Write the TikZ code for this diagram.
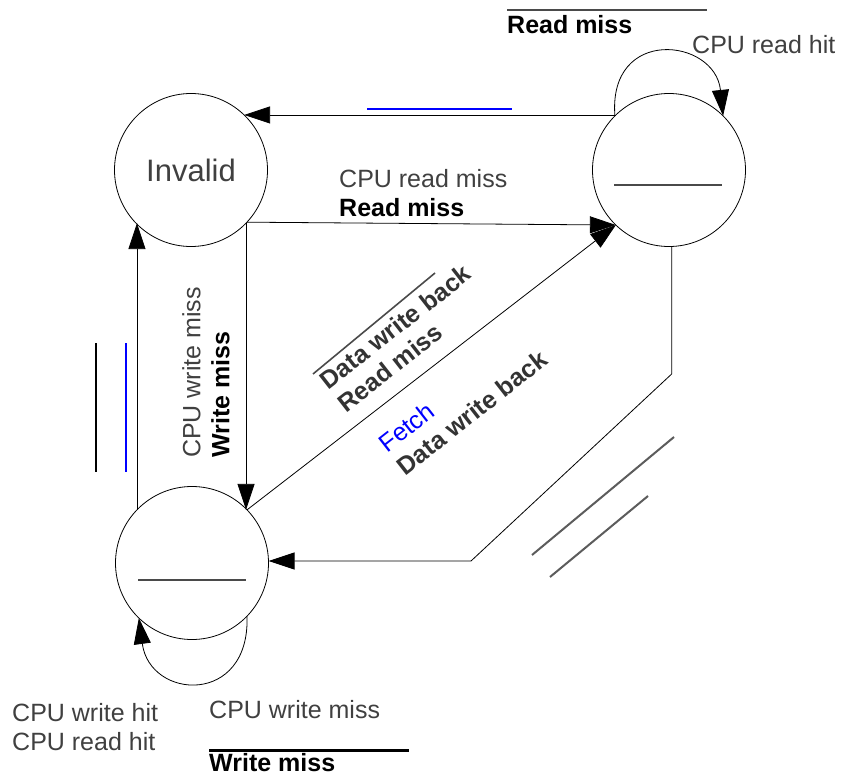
\documentclass[tikz,border=0pt]{standalone}
\usepackage{fontspec}
\setmainfont{Liberation Sans}
\usetikzlibrary{arrows.meta}
\definecolor{txtgray}{HTML}{404040}
\definecolor{diaggray}{HTML}{333333}
\definecolor{bargray}{HTML}{4A4A4A}
\tikzset{
	state/.style={circle, draw, line width=0.8pt, minimum size=153pt, inner sep=0pt, outer sep=0pt},
	edge/.style={line width=0.8pt, -{Triangle[length=26pt,width=17pt]}},
	lbl/.style={inner sep=0pt, align=left, font=\fontsize{25}{29}\selectfont, text=txtgray},
	diag/.style={lbl, rotate=38, anchor=north west, text=diaggray, font=\fontsize{25}{29}\selectfont\bfseries},
	bar/.style={line width=2.2pt, color=bargray},
	slash/.style={line width=2pt, color=bargray!90}
}

\begin{document}
\begin{tikzpicture}[x=1pt,y=1pt]
	%%%%% START %%%%%
	\useasboundingbox (0,0) rectangle (843,-776);

	\node[state, font=\fontsize{31}{36}\selectfont, text=txtgray] (inv) at (191,-170) {Invalid};
	\node[state] (shr) at (669,-170) {};
	\node[state] (mod) at (192,-563) {};

	\draw[bar] ([shift={(-55,-15)}]shr.center) -- ++(108,0);
	\draw[bar] ([shift={(-54,-17)}]mod.center) -- ++(108,0);

	% shared -> invalid
	\draw[edge] (shr.134) -- (shr.134 -| inv.46);
	\draw[line width=2pt, blue] (367,-109) -- (512,-109);

	% invalid -> shared
	\draw[edge] (inv.-43) -- (shr.-134);
	\node[lbl, anchor=north west] (l_rm) at (339,-169) {CPU read miss\\{\color{black}\bfseries Read miss}};

	% shared self loop
	\draw[edge] (shr.135) .. controls +(-7,90) and +(-8,78) .. (shr.45);
	\node[lbl, anchor=base west] (l_rh) at (692,-54) {CPU read hit};
	\draw[bar] (507,-10) -- (707,-10);
	\node[lbl, anchor=base west, text=black, font=\fontsize{25}{29}\selectfont\bfseries] (l_rm2) at (507,-34) {Read miss};

	% invalid -> modified
	\draw[edge] (inv.-44) -- (inv.-44 |- mod.44);
	\node[lbl, rotate=90, anchor=north west] (l_wm) at (182,-458) {CPU write miss\\{\color{black}\bfseries Write miss}};

	% modified -> invalid
	\draw[edge] (mod.136) -- (mod.136 |- inv.-136);
	\draw[line width=2.5pt] (96,-343) -- (96,-472);
	\draw[line width=1.5pt, blue] (126,-343) -- (126,-472);

	% modified -> shared
	\draw[edge] (mod.44) -- (shr.-134);
	\draw[bar, line width=1.6pt] (313,-374) -- (435,-273);
	\node[diag] (l_wb) at (317,-376) {Data write back\\Read miss};
	\node[diag] (l_fe) at (376,-439) {{\color{blue}\mdseries Fetch}\\Data write back};

	% shared -> modified
	\coordinate (k1) at (672,-374);
	\coordinate (k2) at (471,-561);
	\draw[edge] (shr.-88) -- (shr.-88 |- k1) -- (k2) -- (k2 -| mod.east);
	\draw[slash] (532,-555) -- (674,-437);
	\draw[slash] (550,-577) -- (648,-496);

	% modified self loop
	\draw[edge] (mod.-44) .. controls +(3,-90) and +(11,-82) .. (mod.-134);
	\node[lbl, anchor=north west] (l_wh) at (12,-703) {CPU write hit\\CPU read hit};
	\node[lbl, anchor=base west] (l_wm2) at (209,-718) {CPU write miss};
	\draw[line width=3pt] (209,-750) -- (409,-750);
	\node[lbl, anchor=base west, text=black, font=\fontsize{25}{29}\selectfont\bfseries] (l_wm3) at (209,-771) {Write miss};

	%%%%% END %%%%%
\end{tikzpicture}
\end{document}
